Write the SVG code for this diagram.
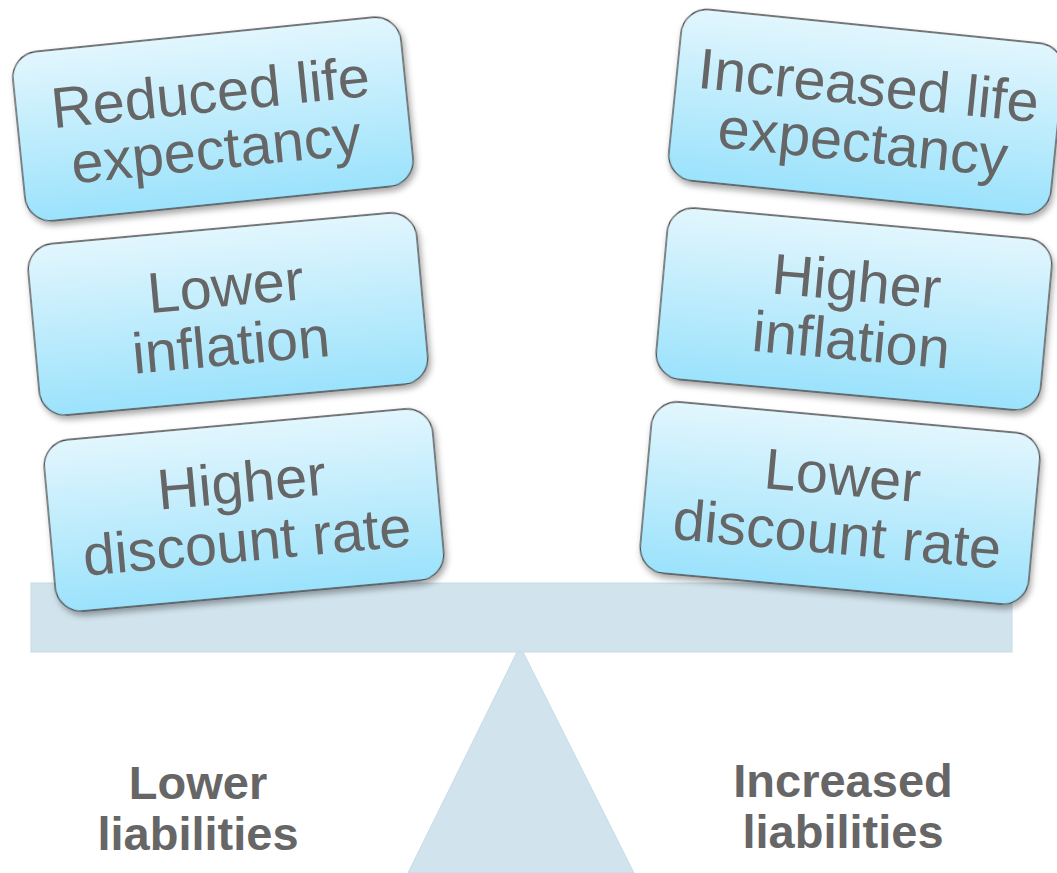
<svg xmlns="http://www.w3.org/2000/svg" width="1057" height="873" viewBox="0 0 1057 873">
  <defs>
    <linearGradient id="cardFill" x1="0" y1="0" x2="0" y2="1">
      <stop offset="0" stop-color="#e2f6fd"/>
      <stop offset="1" stop-color="#9be2fc"/>
    </linearGradient>
    <filter id="cardShadow" x="-10%" y="-15%" width="125%" height="140%">
      <feDropShadow dx="2" dy="4" stdDeviation="3" flood-color="#000" flood-opacity="0.35"/>
    </filter>
  </defs>
  <style>
    .card { fill: url(#cardFill); stroke: #4a4a4a; stroke-width: 1.3; filter: url(#cardShadow); }
    .cardText { font-family: "Liberation Sans", Arial, sans-serif; font-size: 57.5px; fill: #666666; text-anchor: middle; }
    .outcome { font-family: "Liberation Sans", Arial, sans-serif; font-size: 47px; font-weight: bold; fill: #666666; text-anchor: middle; }
    .scale { fill: #d1e3ec; stroke: #c6dbe6; stroke-width: 1; }
  </style>
  <rect width="1057" height="873" fill="#ffffff"/>

  <!-- fulcrum and beam -->
  <g id="scale">
    <polygon class="scale" points="520,646 634,873 408,873"/>
    <rect class="scale" x="31" y="583" width="981" height="69"/>
  </g>

  <!-- left pan: factors that lower liabilities -->
  <g id="reduced-life" transform="translate(213,119) rotate(-5.8)">
    <rect class="card" x="-195" y="-85" width="390" height="170" rx="26"/>
    <text class="cardText" y="-7">Reduced life</text>
    <text class="cardText" y="50">expectancy</text>
  </g>
  <g id="lower-inflation" transform="translate(228,314) rotate(-5.2)">
    <rect class="card" x="-195" y="-86" width="390" height="172" rx="26"/>
    <text class="cardText" y="-8">Lower</text>
    <text class="cardText" y="51">inflation</text>
  </g>
  <g id="higher-discount" transform="translate(244,510) rotate(-5.2)">
    <rect class="card" x="-195" y="-86" width="390" height="172" rx="26"/>
    <text class="cardText" y="-8">Higher</text>
    <text class="cardText" y="51">discount rate</text>
  </g>

  <!-- right pan: factors that increase liabilities -->
  <g id="increased-life" transform="translate(866,112) rotate(5.8)">
    <rect class="card" x="-192" y="-86" width="384" height="172" rx="26"/>
    <text class="cardText" y="-7">Increased life</text>
    <text class="cardText" y="50">expectancy</text>
  </g>
  <g id="higher-inflation" transform="translate(854,309) rotate(5.2)">
    <rect class="card" x="-193" y="-86" width="386" height="172" rx="26"/>
    <text class="cardText" y="-8">Higher</text>
    <text class="cardText" y="51">inflation</text>
  </g>
  <g id="lower-discount" transform="translate(840,503) rotate(5.2)">
    <rect class="card" x="-195" y="-86" width="390" height="172" rx="26"/>
    <text class="cardText" y="-8">Lower</text>
    <text class="cardText" y="51">discount rate</text>
  </g>

  <!-- outcome labels -->
  <g id="lower-liabilities">
    <text class="outcome" x="198" y="799">Lower</text>
    <text class="outcome" x="198" y="850">liabilities</text>
  </g>
  <g id="increased-liabilities">
    <text class="outcome" x="843" y="797">Increased</text>
    <text class="outcome" x="843" y="848">liabilities</text>
  </g>
</svg>
